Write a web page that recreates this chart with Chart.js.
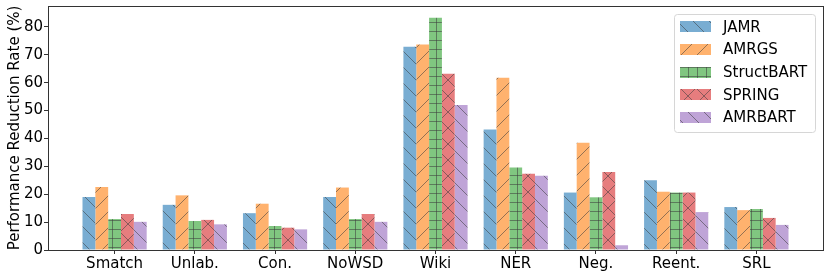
<!DOCTYPE html>
<html>
<head>
<meta charset="utf-8">
<script src="https://cdn.jsdelivr.net/npm/chart.js@4.4.1/dist/chart.umd.min.js"></script>
<style>
  html, body { margin: 0; padding: 0; background: #fff; }
  #wrap { width: 830px; height: 277px; }
</style>
</head>
<body>
<div id="wrap"><canvas id="chart"></canvas></div>
<script>
// Data
const categories = ["Smatch", "Unlab.", "Con.", "NoWSD", "Wiki", "NER", "Neg.", "Reent.", "SRL"];
const jamr       = [19.0, 16.2, 13.2, 19.0, 72.9, 43.2, 20.6, 25.0, 15.4];
const amrgs      = [22.6, 19.6, 16.6, 22.4, 73.7, 61.8, 38.5, 20.9, 14.3];
const structbart = [11.1, 10.4,  8.6, 11.1, 83.3, 29.6, 18.9, 20.6, 14.7];
const spring     = [12.9, 10.8,  8.0, 12.9, 63.2, 27.3, 28.0, 20.6, 11.5];
const amrbart    = [10.1,  9.2,  7.4, 10.1, 52.0, 26.6,  1.7, 13.6,  9.0];
const yTicks = [0, 10, 20, 30, 40, 50, 60, 70, 80];

const FONT = "'DejaVu Sans', sans-serif";
const AXIS = "#333333";
const HATCH = "rgba(60,60,60,0.55)";

// build a small tile with a matplotlib-like hatch over the fill colour
function hatch(fill, kind) {
  const size = kind === "+" ? 9 : 16;
  const c = document.createElement("canvas");
  c.width = size; c.height = size;
  const g = c.getContext("2d");
  g.fillStyle = fill;
  g.fillRect(0, 0, size, size);
  g.strokeStyle = HATCH;
  g.lineWidth = 1;
  g.beginPath();
  if (kind === "\\" || kind === "x") {
    for (const o of [-size, 0, size]) {
      g.moveTo(o - 1, -1);
      g.lineTo(o + size + 1, size + 1);
    }
  }
  if (kind === "/" || kind === "x") {
    for (const o of [-size, 0, size]) {
      g.moveTo(o - 1, size + 1);
      g.lineTo(o + size + 1, -1);
    }
  }
  if (kind === "+") {
    g.moveTo(4.5, 0); g.lineTo(4.5, size);
    g.moveTo(0, 4.5); g.lineTo(size, 4.5);
  }
  g.stroke();
  return g.createPattern(c, "repeat");
}

const series = [
  { label: "JAMR",       values: jamr,       color: "#79add2", kind: "\\" },
  { label: "AMRGS",      values: amrgs,      color: "#ffb26e", kind: "/" },
  { label: "StructBART", values: structbart, color: "#80c680", kind: "+" },
  { label: "SPRING",     values: spring,     color: "#e67d7e", kind: "x" },
  { label: "AMRBART",    values: amrbart,    color: "#bfa4d7", kind: "\\" }
];

const datasets = series.map(s => ({
  label: s.label,
  data: s.values.map((v, i) => ({ x: i, y: v })),
  backgroundColor: hatch(s.color, s.kind),
  borderWidth: 0,
  categoryPercentage: 0.8,
  barPercentage: 1.0
}));

// frame around the plot area, like matplotlib spines
const frame = {
  id: "frame",
  afterDatasetsDraw(chart) {
    const { ctx, chartArea: a } = chart;
    ctx.save();
    ctx.strokeStyle = AXIS;
    ctx.lineWidth = 1;
    ctx.strokeRect(Math.round(a.left) + 0.5, Math.round(a.top) + 0.5,
      Math.round(a.right - a.left), Math.round(a.bottom - a.top));
    ctx.restore();
  }
};

// legend box in the upper right corner
const boxLegend = {
  id: "boxLegend",
  afterDraw(chart) {
    const { ctx } = chart;
    const x = 674, y = 14, w = 141, h = 118, r = 3;
    ctx.save();
    ctx.beginPath();
    ctx.roundRect(x + 0.5, y + 0.5, w, h, r);
    ctx.fillStyle = "rgba(255,255,255,0.8)";
    ctx.fill();
    ctx.strokeStyle = "#d6d6d6";
    ctx.lineWidth = 1;
    ctx.stroke();
    ctx.font = "15px " + FONT;
    ctx.textBaseline = "middle";
    ctx.fillStyle = "#000";
    chart.data.datasets.forEach((ds, i) => {
      const cy = 26.7 + i * 22.65;
      ctx.fillStyle = ds.backgroundColor;
      ctx.fillRect(680, Math.round(cy - 5.5), 31, 11);
      ctx.fillStyle = "#000";
      ctx.fillText(ds.label, 723, cy + 1);
    });
    ctx.restore();
  }
};

new Chart(document.getElementById("chart").getContext("2d"), {
  type: "bar",
  data: { datasets },
  options: {
    responsive: true,
    maintainAspectRatio: false,
    animation: false,
    layout: { padding: { left: 0, right: 7, top: 6, bottom: 0 } },
    plugins: {
      legend: { display: false },
      tooltip: { enabled: false }
    },
    scales: {
      x: {
        type: "linear",
        offset: false,
        min: -0.83,
        max: 8.83,
        afterBuildTicks: axis => { axis.ticks = categories.map((c, i) => ({ value: i })); },
        afterFit: axis => { axis.height = 27; axis.paddingLeft = 0; axis.paddingRight = 0; },
        ticks: {
          autoSkip: false,
          maxRotation: 0,
          padding: 1,
          color: "#000",
          font: { family: FONT, size: 15 },
          callback: v => categories[v]
        },
        grid: { offset: false, drawOnChartArea: false, tickLength: 4, color: AXIS },
        border: { color: AXIS }
      },
      y: {
        min: 0,
        max: 87.5,
        afterBuildTicks: axis => { axis.ticks = yTicks.map(v => ({ value: v })); },
        afterFit: axis => { axis.width = 48; axis.paddingTop = 0; axis.paddingBottom = 0; },
        ticks: {
          padding: 1,
          color: "#000",
          font: { family: FONT, size: 15 }
        },
        grid: { drawOnChartArea: false, tickLength: 4, color: AXIS },
        border: { color: AXIS },
        title: {
          display: true,
          text: "Performance Reduction Rate (%)",
          color: "#000",
          font: { family: FONT, size: 15 },
          padding: { top: 6, bottom: 0 }
        }
      }
    }
  },
  plugins: [frame, boxLegend]
});
</script>
</body>
</html>
